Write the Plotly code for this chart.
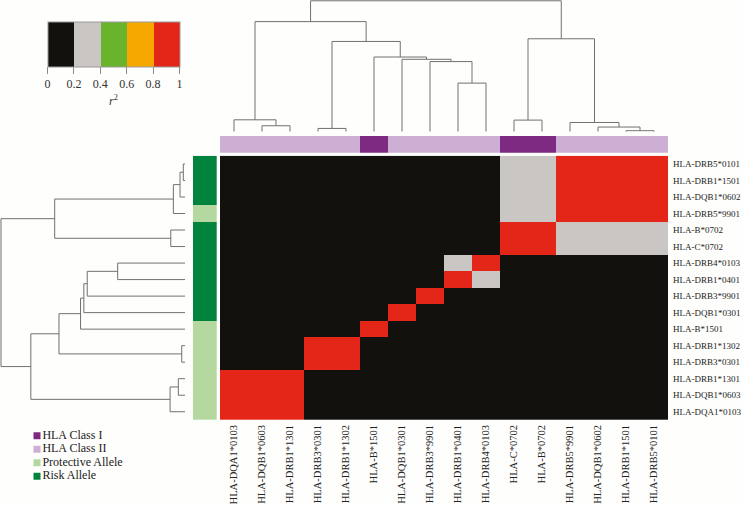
import plotly.graph_objects as go

W, H = 742, 505
FONT = "Liberation Serif"

# ---------------- data ----------------
row_labels = ["HLA-DRB5*0101", "HLA-DRB1*1501", "HLA-DQB1*0602", "HLA-DRB5*9901",
              "HLA-B*0702", "HLA-C*0702", "HLA-DRB4*0103", "HLA-DRB1*0401",
              "HLA-DRB3*9901", "HLA-DQB1*0301", "HLA-B*1501", "HLA-DRB1*1302",
              "HLA-DRB3*0301", "HLA-DRB1*1301", "HLA-DQB1*0603", "HLA-DQA1*0103"]
col_labels = ["HLA-DQA1*0103", "HLA-DQB1*0603", "HLA-DRB1*1301", "HLA-DRB3*0301",
              "HLA-DRB1*1302", "HLA-B*1501", "HLA-DQB1*0301", "HLA-DRB3*9901",
              "HLA-DRB1*0401", "HLA-DRB4*0103", "HLA-C*0702", "HLA-B*0702",
              "HLA-DRB5*9901", "HLA-DQB1*0602", "HLA-DRB1*1501", "HLA-DRB5*0101"]

# r^2 matrix (rows top->bottom, columns left->right)
r2 = [
    [0.05, 0.05, 0.05, 0.05, 0.05, 0.05, 0.05, 0.05, 0.05, 0.05, 0.3, 0.3, 0.9, 0.9, 0.9, 1.0],
    [0.05, 0.05, 0.05, 0.05, 0.05, 0.05, 0.05, 0.05, 0.05, 0.05, 0.3, 0.3, 0.9, 0.9, 1.0, 0.9],
    [0.05, 0.05, 0.05, 0.05, 0.05, 0.05, 0.05, 0.05, 0.05, 0.05, 0.3, 0.3, 0.9, 1.0, 0.9, 0.9],
    [0.05, 0.05, 0.05, 0.05, 0.05, 0.05, 0.05, 0.05, 0.05, 0.05, 0.3, 0.3, 1.0, 0.9, 0.9, 0.9],
    [0.05, 0.05, 0.05, 0.05, 0.05, 0.05, 0.05, 0.05, 0.05, 0.05, 0.9, 1.0, 0.3, 0.3, 0.3, 0.3],
    [0.05, 0.05, 0.05, 0.05, 0.05, 0.05, 0.05, 0.05, 0.05, 0.05, 1.0, 0.9, 0.3, 0.3, 0.3, 0.3],
    [0.05, 0.05, 0.05, 0.05, 0.05, 0.05, 0.05, 0.05, 0.3, 1.0, 0.05, 0.05, 0.05, 0.05, 0.05, 0.05],
    [0.05, 0.05, 0.05, 0.05, 0.05, 0.05, 0.05, 0.05, 1.0, 0.3, 0.05, 0.05, 0.05, 0.05, 0.05, 0.05],
    [0.05, 0.05, 0.05, 0.05, 0.05, 0.05, 0.05, 1.0, 0.05, 0.05, 0.05, 0.05, 0.05, 0.05, 0.05, 0.05],
    [0.05, 0.05, 0.05, 0.05, 0.05, 0.05, 1.0, 0.05, 0.05, 0.05, 0.05, 0.05, 0.05, 0.05, 0.05, 0.05],
    [0.05, 0.05, 0.05, 0.05, 0.05, 1.0, 0.05, 0.05, 0.05, 0.05, 0.05, 0.05, 0.05, 0.05, 0.05, 0.05],
    [0.05, 0.05, 0.05, 0.9, 1.0, 0.05, 0.05, 0.05, 0.05, 0.05, 0.05, 0.05, 0.05, 0.05, 0.05, 0.05],
    [0.05, 0.05, 0.05, 1.0, 0.9, 0.05, 0.05, 0.05, 0.05, 0.05, 0.05, 0.05, 0.05, 0.05, 0.05, 0.05],
    [0.9, 0.9, 1.0, 0.05, 0.05, 0.05, 0.05, 0.05, 0.05, 0.05, 0.05, 0.05, 0.05, 0.05, 0.05, 0.05],
    [0.9, 1.0, 0.9, 0.05, 0.05, 0.05, 0.05, 0.05, 0.05, 0.05, 0.05, 0.05, 0.05, 0.05, 0.05, 0.05],
    [1.0, 0.9, 0.9, 0.05, 0.05, 0.05, 0.05, 0.05, 0.05, 0.05, 0.05, 0.05, 0.05, 0.05, 0.05, 0.05],
]

# column annotation: HLA class of each column allele
col_class = ["II", "II", "II", "II", "II", "I", "II", "II", "II", "II", "I", "I", "II", "II", "II", "II"]
# row annotation: allele effect
row_effect = ["Risk", "Risk", "Risk", "Protective", "Risk", "Risk", "Risk", "Risk",
              "Risk", "Risk", "Protective", "Protective", "Protective", "Protective",
              "Protective", "Protective"]

# dendrograms as nested (height, left, right); leaves are column / row indices
col_tree = (132, (111, (12, 0, (6, 1, 2)),
                  (91, (3.3, 3, 4),
                   (75.3, 5, (73, 6, (70.7, 7, (49, 8, 9)))))),
            (93.7, (11.7, 10, 11), (9.3, 12, (4.7, 13, (1, 14, 15)))))
row_tree = (185, (131, (11.7, (5, (1.7, 0, 1), 2), 3), (14.3, 4, 5)),
            (155, (126.7, (105, (101.7, (98.3, (67.7, 6, 7), 8), 9), 10), (3.3, 11, 12)),
             (15, (6.7, 13, 14), 15)))

cbar_ticks = [0, 0.2, 0.4, 0.6, 0.8, 1]
cbar_ticktext = ["0", "0.2", "0.4", "0.6", "0.8", "1"]

legend_names = ["HLA Class I", "HLA Class II", "Protective Allele", "Risk Allele"]

# ---------------- styles ----------------
C_BLACK, C_GRAY, C_GREEN, C_ORANGE, C_RED = "#12110d", "#c9c6c3", "#6ab42d", "#f6a800", "#e32618"
C_CLS1, C_CLS2 = "#7e2a82", "#ccafd3"
C_PROT, C_RISK = "#b5d8a0", "#00843d"
LINE = "#707070"

scale = [[0, C_BLACK], [0.2, C_BLACK], [0.2, C_GRAY], [0.4, C_GRAY],
         [0.4, C_GREEN], [0.6, C_GREEN], [0.6, C_ORANGE], [0.8, C_ORANGE],
         [0.8, C_RED], [1, C_RED]]

def px_x(a, b):
    return [a / W, b / W]

def px_y(top, bottom):
    return [1 - bottom / H, 1 - top / H]

HM_X = px_x(220, 668)
HM_Y = px_y(155.7, 420)

n = len(row_labels)
idx = list(range(n))

fig = go.Figure()

# main heatmap
fig.add_trace(go.Heatmap(
    z=r2, x=idx, y=idx, zmin=0, zmax=1, colorscale=scale, xaxis="x", yaxis="y",
    hoverinfo="skip",
    colorbar=dict(orientation="h", x=113.5 / W, xanchor="center", y=1 - 22.3 / H, yanchor="top",
                  len=131.6, lenmode="pixels", thickness=45.4, thicknessmode="pixels",
                  xpad=0, ypad=0, outlinewidth=1, outlinecolor="#9a9a9a",
                  tickvals=cbar_ticks, ticktext=cbar_ticktext, ticks="outside", ticklen=7,
                  tickcolor="#8a8a8a", tickfont=dict(family=FONT, size=12, color="#333"),
                  title=dict(text="<i>r</i><sup>2</sup>", side="bottom",
                             font=dict(family=FONT, size=12, color="#333"))),
))

# column annotation bar
fig.add_trace(go.Heatmap(
    z=[[1 if c == "I" else 0 for c in col_class]], x=idx, y=[0], zmin=0, zmax=1,
    colorscale=[[0, C_CLS2], [0.5, C_CLS2], [0.5, C_CLS1], [1, C_CLS1]],
    showscale=False, xaxis="x2", yaxis="y2", hoverinfo="skip"))

# row annotation bar
fig.add_trace(go.Heatmap(
    z=[[1 if e == "Risk" else 0] for e in row_effect], x=[0], y=idx, zmin=0, zmax=1,
    colorscale=[[0, C_PROT], [0.5, C_PROT], [0.5, C_RISK], [1, C_RISK]],
    showscale=False, xaxis="x3", yaxis="y3", hoverinfo="skip"))

# dendrograms
def walk(node, segs):
    if isinstance(node, int):
        return float(node), 0.0
    h, a, b = node
    pa, ha = walk(a, segs)
    pb, hb = walk(b, segs)
    segs.append(([pa, pa, pb, pb], [ha, h, h, hb]))
    return (pa + pb) / 2, h

col_segs = []
walk(col_tree, col_segs)
cx, cy = [], []
for p, h in col_segs:
    cx += p + [None]
    cy += h + [None]
fig.add_trace(go.Scatter(x=cx, y=cy, mode="lines", line=dict(color=LINE, width=1),
                         xaxis="x4", yaxis="y4", hoverinfo="skip"))

row_segs = []
walk(row_tree, row_segs)
rx, ry = [], []
for p, h in row_segs:
    rx += h + [None]
    ry += p + [None]
fig.add_trace(go.Scatter(x=rx, y=ry, mode="lines", line=dict(color=LINE, width=1),
                         xaxis="x5", yaxis="y5", hoverinfo="skip"))

# legend (manual, compact)
fig.add_trace(go.Scatter(
    x=[0] * len(legend_names), y=list(range(len(legend_names))), mode="markers+text",
    marker=dict(symbol="square", size=7, color=[C_CLS1, C_CLS2, C_PROT, C_RISK]),
    text=legend_names, textposition="middle right",
    textfont=dict(family=FONT, size=12, color="#222"),
    xaxis="x6", yaxis="y6", hoverinfo="skip"))

hidden = dict(visible=False, showgrid=False, zeroline=False, fixedrange=True)

fig.update_layout(
    width=W, height=H, margin=dict(l=0, r=0, t=0, b=0),
    paper_bgcolor="#fefefc", plot_bgcolor="rgba(0,0,0,0)", showlegend=False,
    font=dict(family=FONT, color="#222"),
    xaxis=dict(domain=HM_X, range=[-0.5, n - 0.5], tickmode="array", tickvals=idx,
               ticktext=col_labels, tickangle=-90, ticks="", showgrid=False, zeroline=False,
               showline=False, tickfont=dict(family=FONT, size=10.5, color="#222"),
               ticklabelstandoff=2, automargin=False),
    yaxis=dict(domain=HM_Y, range=[n - 0.5, -0.5], side="right", tickmode="array",
               tickvals=idx, ticktext=row_labels, ticks="", showgrid=False, zeroline=False,
               showline=False, tickfont=dict(family=FONT, size=9, color="#222"),
               ticklabelstandoff=4, automargin=False),
    xaxis2=dict(domain=HM_X, range=[-0.5, n - 0.5], anchor="y2", **hidden),
    yaxis2=dict(domain=px_y(136, 152.7), range=[-0.5, 0.5], anchor="x2", **hidden),
    xaxis3=dict(domain=px_x(193, 216.7), range=[-0.5, 0.5], anchor="y3", **hidden),
    yaxis3=dict(domain=HM_Y, range=[n - 0.5, -0.5], anchor="x3", **hidden),
    xaxis4=dict(domain=HM_X, range=[-0.5, n - 0.5], anchor="y4", **hidden),
    yaxis4=dict(domain=px_y(0, 131.7), range=[0, 132.8], anchor="x4", **hidden),
    xaxis5=dict(domain=px_x(0, 185), range=[186, 0], anchor="y5", **hidden),
    yaxis5=dict(domain=HM_Y, range=[n - 0.5, -0.5], anchor="x5", **hidden),
    xaxis6=dict(domain=px_x(30, 230), range=[-7, 193], anchor="y6", **hidden),
    yaxis6=dict(domain=px_y(429, 483), range=[3.5, -0.5], anchor="x6", **hidden),
)

fig.write_html("out.html", config={"displayModeBar": False, "staticPlot": True},
               post_script="document.body.style.margin='0';document.body.style.overflow='hidden';")
